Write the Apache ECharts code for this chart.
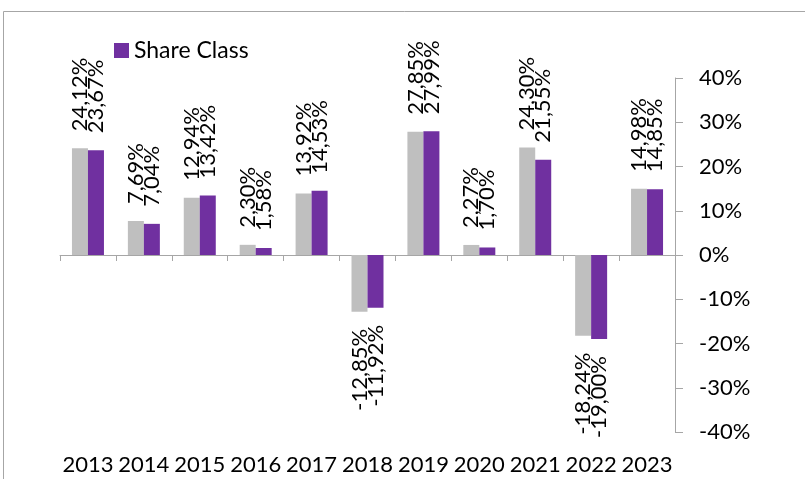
<!DOCTYPE html>
<html>
<head>
<meta charset="utf-8">
<script src="https://cdn.jsdelivr.net/npm/echarts@6/dist/echarts.min.js"></script>
<style>
  html, body { margin: 0; padding: 0; background: #fff; }
  #chart { width: 805px; height: 479px; }
</style>
</head>
<body>
<div id="chart"></div>
<script>
// Calendar years shown on the category axis
const years = ['2013', '2014', '2015', '2016', '2017', '2018', '2019', '2020', '2021', '2022', '2023'];
// Annual returns in percent
const referenceReturns = [24.12, 7.69, 12.94, 2.30, 13.92, -12.85, 27.85, 2.27, 24.30, -18.24, 14.98];
const shareClassReturns = [23.67, 7.04, 13.42, 1.58, 14.53, -11.92, 27.99, 1.70, 21.55, -19.00, 14.85];
// Value axis ticks
const yTicks = [-40, -30, -20, -10, 0, 10, 20, 30, 40];

const FONT = 'Lato';
const fmt = v => v.toFixed(2).replace('.', ',') + '%';

function labelled(values) {
  return values.map(v => ({
    value: v,
    label: v >= 0
      ? { position: 'top', align: 'left', distance: 17 }
      : { position: 'bottom', align: 'right', distance: 17 }
  }));
}

const chart = echarts.init(document.getElementById('chart'), null, { renderer: 'canvas' });

const barLabel = {
  show: true,
  rotate: 90,
  verticalAlign: 'middle',
  fontFamily: FONT,
  fontSize: 22,
  color: '#000',
  formatter: p => fmt(p.value)
};

chart.setOption({
  animation: false,
  backgroundColor: '#fff',
  graphic: [{
    type: 'rect',
    shape: { x: 3.5, y: 11.5, width: 900, height: 600 },
    style: { fill: 'none', stroke: '#a6a6a6', lineWidth: 1 },
    silent: true
  }],
  legend: {
    data: ['Share Class'],
    left: 109,
    top: 34,
    itemWidth: 15,
    itemHeight: 15,
    itemGap: 6,
    icon: 'rect',
    textStyle: { fontFamily: FONT, fontSize: 23, color: '#000' }
  },
  grid: { left: 60, right: 130, top: 78, bottom: 47 },
  xAxis: [{
    type: 'category',
    data: years,
    position: 'bottom',
    axisLine: { onZero: true, lineStyle: { color: '#a6a6a6', width: 1 } },
    axisTick: { show: true, alignWithLabel: false, length: 6, lineStyle: { color: '#a6a6a6' } },
    axisLabel: { show: false }
  }, {
    type: 'category',
    data: years,
    position: 'bottom',
    axisLine: { show: false, onZero: false },
    axisTick: { show: false },
    axisLabel: { show: true, interval: 0, margin: 22, fontFamily: FONT, fontSize: 22, color: '#000' }
  }],
  yAxis: {
    type: 'value',
    position: 'right',
    min: yTicks[0],
    max: yTicks[yTicks.length - 1],
    interval: 10,
    axisLine: { show: true, lineStyle: { color: '#a6a6a6' } },
    axisTick: { show: true, inside: false, length: 8, lineStyle: { color: '#a6a6a6' } },
    splitLine: { show: false },
    axisLabel: {
      margin: 24,
      fontFamily: FONT,
      fontSize: 22,
      color: '#000',
      formatter: v => v + '%'
    }
  },
  series: [{
    name: 'Reference',
    type: 'bar',
    xAxisIndex: 0,
    data: labelled(referenceReturns),
    barWidth: 16,
    barGap: '0%',
    itemStyle: { color: '#bfbfbf' },
    label: barLabel
  }, {
    name: 'Share Class',
    type: 'bar',
    xAxisIndex: 0,
    data: labelled(shareClassReturns),
    barWidth: 16,
    barGap: '0%',
    itemStyle: { color: '#7030a0' },
    label: barLabel
  }]
});
</script>
</body>
</html>
